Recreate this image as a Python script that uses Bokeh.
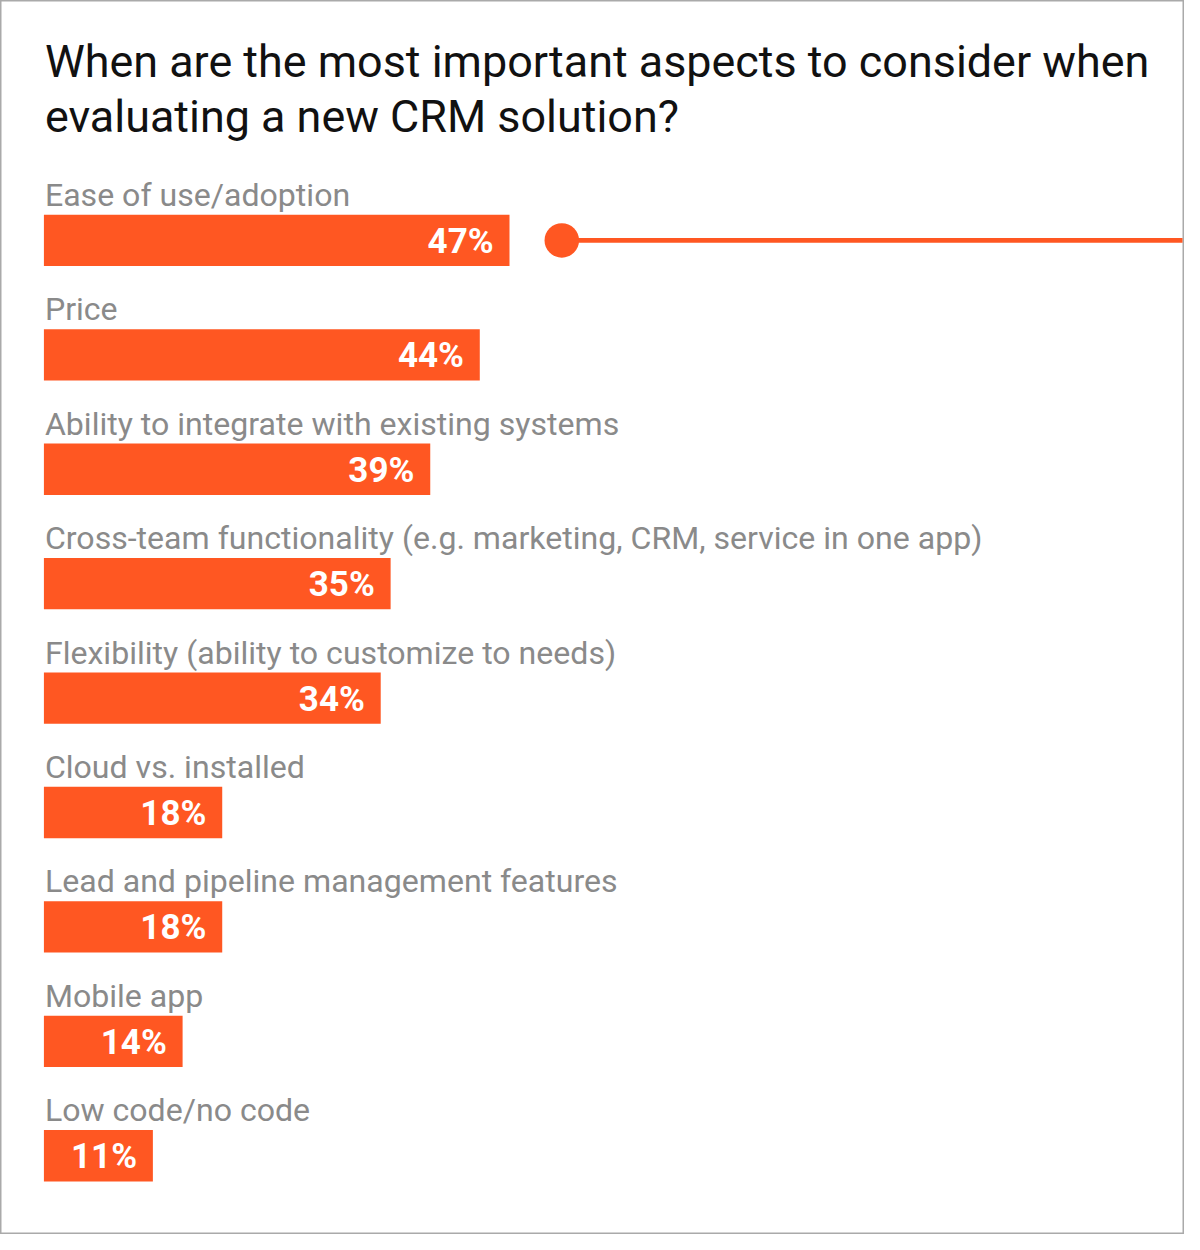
from bokeh.plotting import figure
from bokeh.models import Range1d
from bokeh.core.properties import value
from bokeh.embed import file_html
from bokeh.resources import INLINE

title_lines = ["When are the most important aspects to consider when",
               "evaluating a new CRM solution?"]
categories = ["Ease of use/adoption", "Price", "Ability to integrate with existing systems",
              "Cross-team functionality (e.g. marketing, CRM, service in one app)",
              "Flexibility (ability to customize to needs)", "Cloud vs. installed",
              "Lead and pipeline management features", "Mobile app", "Low code/no code"]
values = [47, 44, 39, 35, 34, 18, 18, 14, 11]
value_labels = [f"{v}%" for v in values]

ORANGE = "#FF5722"
W, H = 1184, 1234
REF_W, REF_H = 1200, 1250
SC = W / REF_W
PX_PER_PCT = 10.04   # reference px per percent
X0 = 44              # reference px where 0% sits

p = figure(width=W, height=H, output_backend="svg", toolbar_location=None,
           x_range=Range1d(-X0 / PX_PER_PCT, (REF_W - X0) / PX_PER_PCT),
           y_range=Range1d(REF_H, 0), min_border=0)
p.axis.visible = False
p.grid.visible = False
p.outline_line_color = "#aaaaaa"
p.outline_line_width = 2
p.background_fill_color = "white"

def px2x(px):
    return (px - X0) / PX_PER_PCT

def fs(px):
    return f"{px * SC:.1f}px"

row_y = [243 + 115.9 * i for i in range(len(categories))]
bar_h = 52

p.hbar(y=row_y, left=0, right=values, height=bar_h, fill_color=ORANGE, line_color=None)

p.text(x=[px2x(45)] * len(categories), y=[y - 46 for y in row_y], text=categories,
       text_font=value("Roboto"), text_font_size=fs(32.5), text_color="#8a8a8a",
       text_baseline="middle", text_align="left")

p.text(x=[v - 1.6 for v in values], y=[y + 1 for y in row_y], text=value_labels,
       text_font=value("Roboto"), text_font_style="bold", text_font_size=fs(35.5),
       text_color="white", text_baseline="middle", text_align="right")

p.text(x=[px2x(45)] * 2, y=[62, 117], text=title_lines,
       text_font=value("Roboto"), text_font_size=fs(45.5), text_color="#111111",
       text_baseline="middle", text_align="left")

# decorative pointer line from first bar
dot_x = values[0] + px2x(569) - px2x(516)
p.line(x=[dot_x, px2x(1198)], y=[row_y[0], row_y[0]], line_color=ORANGE, line_width=5 * SC)
p.scatter(x=[dot_x], y=[row_y[0]], size=35 * SC, marker="circle", fill_color=ORANGE, line_color=None)

open("out.html", "w").write(file_html(p, INLINE))
